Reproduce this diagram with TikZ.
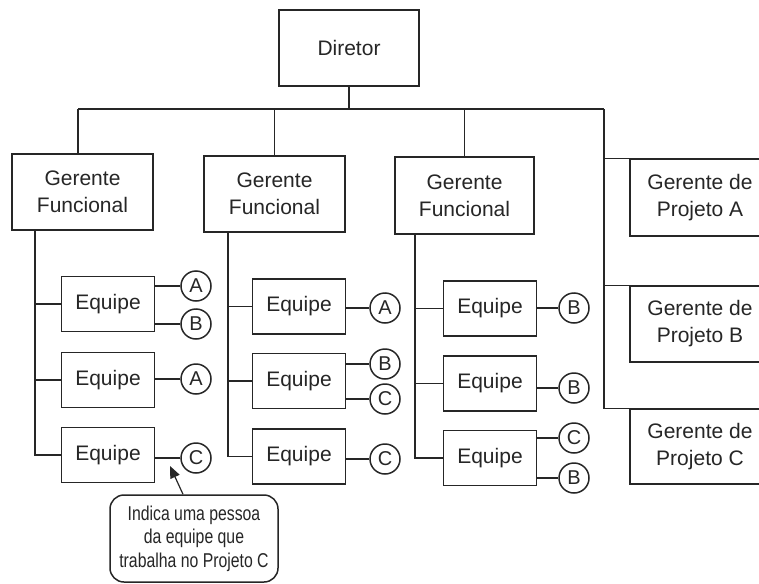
\documentclass[tikz,border=0pt]{standalone}
\usepackage{fontspec}
\setmainfont{Liberation Sans}
\newfontfamily\narrowfont{Liberation Sans}[FakeStretch=0.79]
\usetikzlibrary{arrows.meta}
\definecolor{ink}{HTML}{262626}
\begin{document}
\begin{tikzpicture}[x=1pt,y=-1pt, color=ink, line width=1.5pt,
  box/.style={draw, inner sep=0pt, align=center,
    font=\fontsize{21}{27}\selectfont},
  mgr/.style={box, minimum width=141pt, minimum height=76pt},
  team/.style={box, minimum width=93pt, minimum height=55pt},
  proj/.style={draw, circle, inner sep=0pt, minimum size=30pt,
    font=\fontsize{20}{20}\selectfont},
  note/.style={draw, rounded corners=14pt, align=center,
    minimum width=168pt, minimum height=87pt, inner sep=0pt,
    font=\narrowfont\fontsize{20}{23.5}\selectfont},
  pointer/.style={-{Triangle[length=12pt,width=10pt]}, line width=1.2pt}]

\useasboundingbox (0,0) rectangle (759,583);
\fill[white] (0,0) rectangle (759,583);
\clip (0,0) rectangle (759,583);

% top of the hierarchy
\node[box, minimum width=140pt, minimum height=76pt] (dir) at (349,48) {Diretor};

% functional managers
\node[mgr] (gf1) at (82.5,192) {Gerente\\Funcional};
\node[mgr] (gf2) at (274.5,194) {Gerente\\Funcional};
\node[mgr, minimum width=139pt, minimum height=77pt] (gf3) at (464.5,195.5) {Gerente\\Funcional};

% project managers (right column)
\node[mgr, minimum width=140pt, minimum height=77pt] (pa) at (700,197.5) {Gerente de\\Projeto A};
\node[mgr, minimum width=140pt] (pb) at (700,324) {Gerente de\\Projeto B};
\node[mgr, minimum width=140pt, minimum height=75pt] (pc) at (700,446.5) {Gerente de\\Projeto C};

% teams
\node[team] (e11) at (108,304) {Equipe};
\node[team] (e12) at (108,380) {Equipe};
\node[team] (e13) at (108,455) {Equipe};
\node[team] (e21) at (299,306.5) {Equipe};
\node[team] (e22) at (299,381) {Equipe};
\node[team] (e23) at (299,456.5) {Equipe};
\node[team] (e31) at (490,308.5) {Equipe};
\node[team] (e32) at (490,383.5) {Equipe};
\node[team] (e33) at (490,458) {Equipe};

% project membership markers
\node[proj] (a11) at (196,286) {A};
\node[proj] (b11) at (196,324) {B};
\node[proj] (a12) at (196,379) {A};
\node[proj] (c13) at (196,458) {C};
\node[proj] (a21) at (385,308) {A};
\node[proj] (b22) at (385,364) {B};
\node[proj] (c22) at (385,399) {C};
\node[proj] (c23) at (385,459) {C};
\node[proj] (b31) at (574,308) {B};
\node[proj] (b32) at (574,388) {B};
\node[proj] (c33) at (574,438) {C};
\node[proj] (b33) at (574,478) {B};

% explanatory note
\node[note] (call) at (194,538.5) {Indica uma pessoa\\da equipe que\\trabalha no Projeto C};
\coordinate (tip) at (170,466);

% main bus
\coordinate (busL) at (78,109);
\coordinate (busR) at (604,109);
\draw (dir.south) -- (dir.south |- busL);
\draw (busL) -- (busR);
\draw (busL) -- (gf1.north -| busL);
\draw (gf2.north |- busL) -- (gf2.north);
\draw (gf3.north |- busL) -- (gf3.north);
\draw (busR) |- (pc.north west);
\draw (pa.north west -| busR) -- (pa.north west);
\draw (pb.north west -| busR) -- (pb.north west);

% spines of the functional columns
\coordinate (sp1) at (35,230);
\coordinate (sp2) at (228,232);
\coordinate (sp3) at (415,234);
\draw (sp1) |- (e13.west);
\draw (e11.west -| sp1) -- (e11.west);
\draw (e12.west -| sp1) -- (e12.west);
\draw (sp2) |- (e23.west);
\draw (e21.west -| sp2) -- (e21.west);
\draw (e22.west -| sp2) -- (e22.west);
\draw (sp3) |- (e33.west);
\draw (e31.west -| sp3) -- (e31.west);
\draw (e32.west -| sp3) -- (e32.west);

% team to project links
\foreach \t/\p in {e11/a11, e11/b11, e12/a12, e13/c13,
                   e21/a21, e22/b22, e22/c22, e23/c23,
                   e31/b31, e32/b32, e33/c33, e33/b33}
  \draw (\p.west -| \t.east) -- (\p.west);

% pointer from the note
\draw[pointer] ([xshift=-11pt]call.north) -- (tip);
\end{tikzpicture}
\end{document}
